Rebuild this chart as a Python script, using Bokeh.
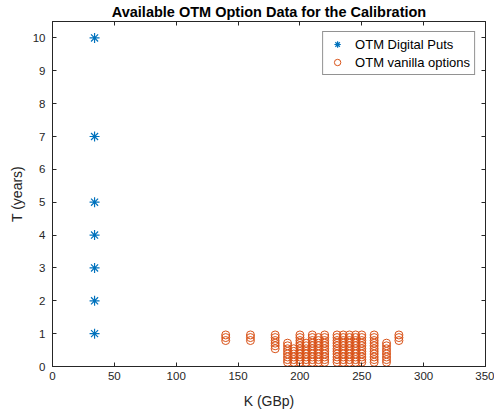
from bokeh.plotting import figure
from bokeh.models import (LinearAxis, Range1d, FixedTicker, Legend, LegendItem,
                          ColumnDataSource)
from bokeh.embed import file_html
from bokeh.resources import INLINE

# --- data ---
digital_K = [34, 34, 34, 34, 34, 34, 34]
digital_T = [1, 2, 3, 4, 5, 7, 10]

vanilla_strikes = [140, 160, 180, 190, 195, 200, 205, 210, 215, 220,
                   230, 235, 240, 245, 250, 260, 270, 280]
vanilla_T_by_strike = [
    [0.79, 0.88, 0.96],
    [0.79, 0.88, 0.96],
    [0.54, 0.63, 0.71, 0.79, 0.88, 0.96],
    [0.13, 0.21, 0.29, 0.38, 0.46, 0.54, 0.63, 0.71],
    [0.13, 0.21, 0.29, 0.38, 0.46, 0.54],
    [0.13, 0.21, 0.29, 0.38, 0.46, 0.54, 0.63, 0.71, 0.79, 0.88, 0.96],
    [0.13, 0.21, 0.29, 0.38, 0.46, 0.54, 0.63, 0.71],
    [0.13, 0.21, 0.29, 0.38, 0.46, 0.54, 0.63, 0.71, 0.79, 0.88, 0.96],
    [0.13, 0.21, 0.29, 0.38, 0.46, 0.54, 0.63, 0.71, 0.79, 0.88],
    [0.13, 0.21, 0.29, 0.38, 0.46, 0.54, 0.63, 0.71, 0.79, 0.88, 0.96],
    [0.13, 0.21, 0.29, 0.38, 0.46, 0.54, 0.63, 0.71, 0.79, 0.88, 0.96],
    [0.13, 0.21, 0.29, 0.38, 0.46, 0.54, 0.63, 0.71, 0.79, 0.88, 0.96],
    [0.13, 0.21, 0.29, 0.38, 0.46, 0.54, 0.63, 0.71, 0.79, 0.88, 0.96],
    [0.13, 0.21, 0.29, 0.38, 0.46, 0.54, 0.63, 0.71, 0.79, 0.88, 0.96],
    [0.13, 0.21, 0.29, 0.38, 0.46, 0.54, 0.63, 0.71, 0.79, 0.88, 0.96],
    [0.13, 0.21, 0.29, 0.38, 0.46, 0.54, 0.63, 0.71, 0.79, 0.88, 0.96],
    [0.13, 0.21, 0.29, 0.38, 0.46, 0.54, 0.63, 0.71],
    [0.79, 0.88, 0.96],
]

x_ticks = [0, 50, 100, 150, 200, 250, 300, 350]
y_ticks = [0, 1, 2, 3, 4, 5, 6, 7, 8, 9, 10]

title_text = "Available OTM Option Data for the Calibration"
x_label = "K (GBp)"
y_label = "T (years)"
digital_name = "OTM Digital Puts"
vanilla_name = "OTM vanilla options"

vanilla_K, vanilla_T = [], []
for k, ts in zip(vanilla_strikes, vanilla_T_by_strike):
    for t in ts:
        vanilla_K.append(k)
        vanilla_T.append(t)

FONT = "Liberation Sans"
AX = "#262626"
BLUE = "#0072BD"
ORANGE = "#D95319"

p = figure(width=494, height=416, output_backend="svg", toolbar_location=None,
           x_range=Range1d(0, 350), y_range=Range1d(0, 10.5),
           x_axis_location=None, y_axis_location=None,
           min_border_left=52, min_border_right=9, min_border_top=0,
           min_border_bottom=50)
p.grid.visible = False
p.outline_line_color = AX
p.background_fill_color = "white"
p.border_fill_color = "white"

p.title.text = title_text
p.title.text_font = FONT
p.title.text_font_size = "14.5px"
p.title.text_font_style = "bold"
p.title.text_color = "#000000"
p.title.align = "center"
p.title.standoff = 3

def style_axis(ax, labels=True):
    ax.axis_line_color = AX
    ax.axis_line_width = 1
    ax.major_tick_line_color = AX
    ax.major_tick_in = 4
    ax.major_tick_out = 0
    ax.minor_tick_line_color = None
    ax.major_label_text_font = FONT
    ax.major_label_text_font_size = "11.5px"
    ax.major_label_text_color = AX
    ax.axis_label_text_font = FONT
    ax.axis_label_text_font_size = "14px"
    ax.axis_label_text_font_style = "normal"
    ax.axis_label_text_color = AX
    if not labels:
        ax.major_label_text_font_size = "0px"
        ax.major_label_text_color = None
        ax.major_label_standoff = 0

xb = LinearAxis(ticker=FixedTicker(ticks=x_ticks), axis_label=x_label)
style_axis(xb)
xb.major_label_standoff = 5
xb.axis_label_standoff = 10
p.add_layout(xb, "below")

yl = LinearAxis(ticker=FixedTicker(ticks=y_ticks), axis_label=y_label)
style_axis(yl)
yl.major_label_standoff = 7
yl.axis_label_standoff = 5
p.add_layout(yl, "left")

xa = LinearAxis(ticker=FixedTicker(ticks=x_ticks))
style_axis(xa, labels=False)
p.add_layout(xa, "above")
yr = LinearAxis(ticker=FixedTicker(ticks=y_ticks))
style_axis(yr, labels=False)
p.add_layout(yr, "right")

dsrc = ColumnDataSource(dict(x=digital_K, y=digital_T))
vsrc = ColumnDataSource(dict(x=vanilla_K, y=vanilla_T))

r_v = p.scatter("x", "y", source=vsrc, marker="circle", size=8,
                fill_color=None, line_color=ORANGE, line_width=1)
r_d = p.scatter("x", "y", source=dsrc, marker="asterisk", size=10,
                line_color=BLUE, line_width=1.2)

legend = Legend(items=[LegendItem(label=digital_name, renderers=[r_d]),
                       LegendItem(label=vanilla_name, renderers=[r_v])],
                location="top_right")
legend.margin = 10
legend.padding = 4
legend.spacing = 2
legend.label_height = 16
legend.glyph_height = 16
legend.glyph_width = 20
legend.label_standoff = 8
legend.label_text_font = FONT
legend.label_text_font_size = "13px"
legend.label_text_color = "#000000"
legend.border_line_color = AX
legend.border_line_width = 1
legend.background_fill_alpha = 1
p.add_layout(legend, "center")

open("out.html", "w").write(file_html(p, INLINE))
